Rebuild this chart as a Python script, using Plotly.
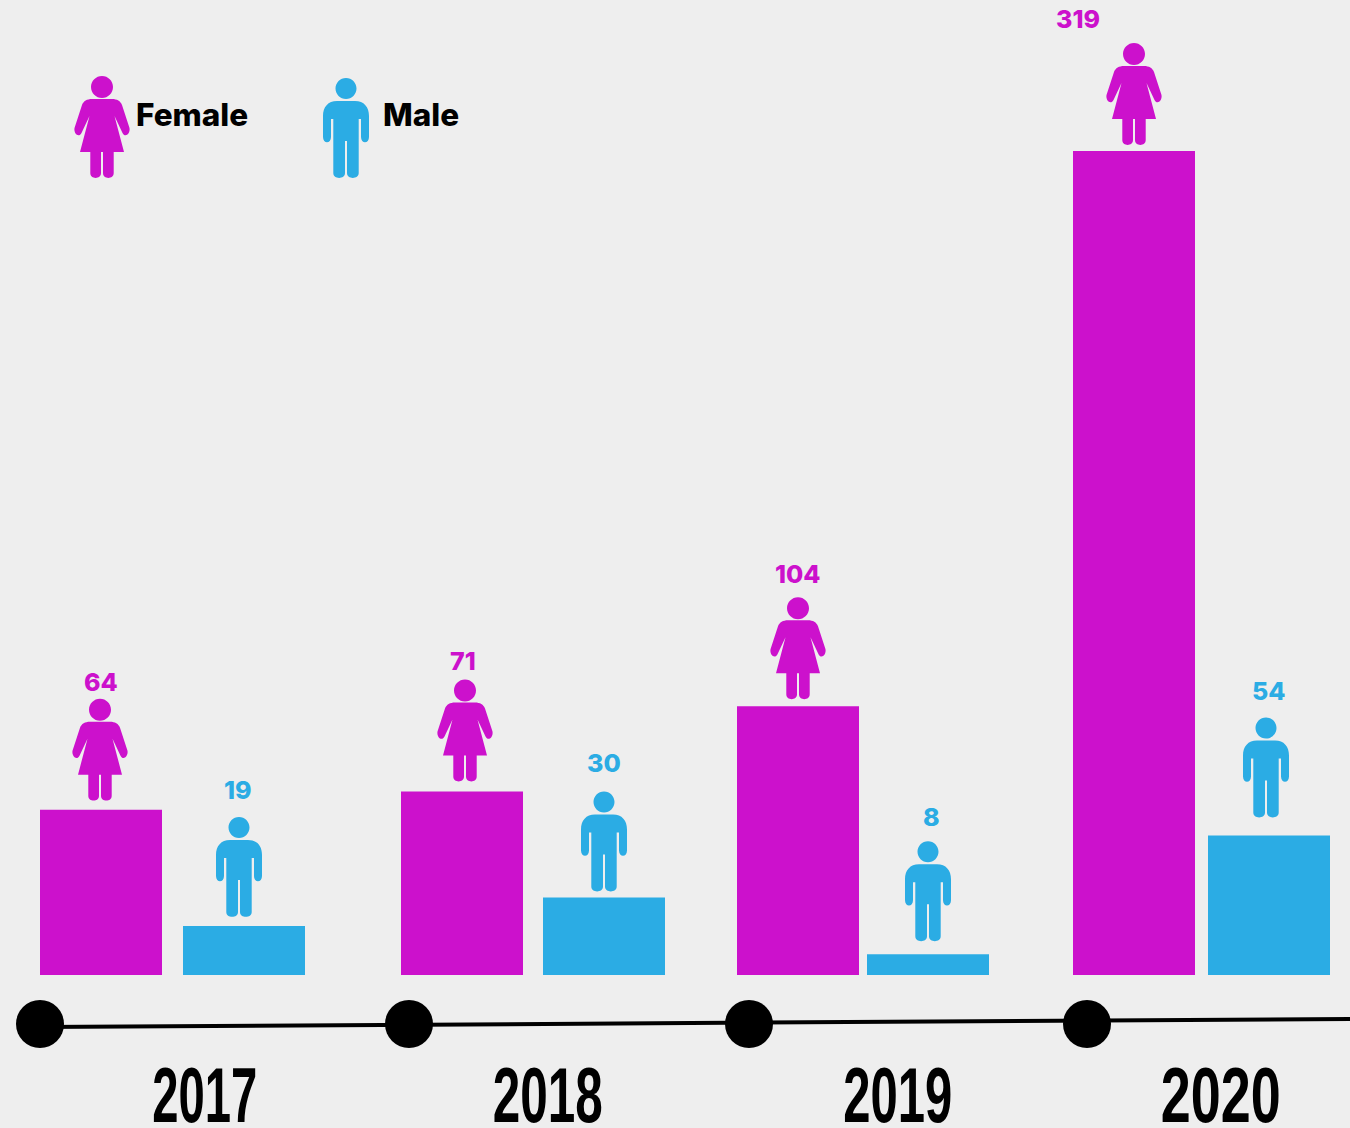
import plotly.graph_objects as go

# --- data ---
years = ["2017", "2018", "2019", "2020"]
female = [64, 71, 104, 319]
male = [19, 30, 8, 54]

# --- layout constants (pixel-scale x axis; y2 is a pixel-scale overlay) ---
W, H = 1350, 1128
BASE_PX = 975
PX_PER_UNIT = 824 / 319
BAR_W = 122
female_x = [101, 462, 798, 1134]
male_x = [244, 604, 928, 1269]
female_icon_x = [100, 465, 798, 1134]
male_icon_x = [239, 604, 928, 1266]
female_icon_gap = [9, 10, 7, 6]
male_icon_gap = [9, 6, 13, 18]
female_label_x = [101, 463, 798, 1078]
male_label_x = [238, 604, 931, 1269]
female_label_gap = [128, 131, 132, 132]
male_label_gap = [136, 135, 137, 145]
node_x = [40, 409, 749, 1087]
year_x = [204, 547, 897, 1220]
year_w = [105, 110, 109, 120]
MAGENTA = "#CC11CC"
BLUE = "#2BACE4"
BG = "#EEEEEE"
FONT = "Inter"


def circle(cx, cy, r):
    k = 0.5523 * r
    return (f"M {cx-r} {cy} C {cx-r} {cy+k} {cx-k} {cy+r} {cx} {cy+r} "
            f"C {cx+k} {cy+r} {cx+r} {cy+k} {cx+r} {cy} "
            f"C {cx+r} {cy-k} {cx+k} {cy-r} {cx} {cy-r} "
            f"C {cx-k} {cy-r} {cx-r} {cy-k} {cx-r} {cy} Z ")


FEMALE_ICON = circle(0, 91, 11) + (
    "M -10 79 L 10 79 C 15 79 18.5 77 20 73 L 27.5 50 C 28.5 44 23 40 20.5 45 L 12.5 62 "
    "L 22 26 L 11.7 26 L 11.7 5 C 11.7 -1.5 1 -1.5 1 5 L 1 26 L -1 26 "
    "L -1 5 C -1 -1.5 -11.7 -1.5 -11.7 5 L -11.7 26 L -22 26 L -12.5 62 "
    "L -20.5 45 C -23 40 -28.5 44 -27.5 50 L -20 73 C -18.5 77 -15 79 -10 79 Z"
)
MALE_ICON = circle(0, 89.5, 10.5) + (
    "M -9 77 L 9 77 C 18 77 23 71 23 62 L 23 41 C 23 34 15 34 15 41 L 15 59 "
    "L 12.7 59 L 12.7 5 C 12.7 -1.5 1 -1.5 1 5 L 1 37 L -1 37 L -1 5 "
    "C -1 -1.5 -12.7 -1.5 -12.7 5 L -12.7 59 L -15 59 L -15 41 "
    "C -15 34 -23 34 -23 41 L -23 62 C -23 71 -18 77 -9 77 Z"
)


def icon(path, color, x, y, yref):
    return dict(type="path", path=path, xsizemode="pixel", ysizemode="pixel",
                xref="x", yref=yref, xanchor=x, yanchor=y,
                fillcolor=color, line=dict(width=0), layer="above")


fig = go.Figure()
fig.add_bar(x=female_x, y=female, width=BAR_W, name="Female",
            marker=dict(color=MAGENTA, line=dict(width=0)), showlegend=False)
fig.add_bar(x=male_x, y=male, width=BAR_W, name="Male",
            marker=dict(color=BLUE, line=dict(width=0)), showlegend=False)

# timeline
fig.add_scatter(x=[40, 1350], y=[1027, 1019], yaxis="y2", mode="lines",
                line=dict(color="black", width=4), showlegend=False, hoverinfo="skip")
fig.add_scatter(x=node_x, y=[1024] * 4, yaxis="y2", mode="markers",
                marker=dict(color="black", size=48, line=dict(width=0)),
                showlegend=False, text=years, hoverinfo="text")

shapes, ann = [], []
for i in range(4):
    shapes.append(icon(FEMALE_ICON, MAGENTA, female_icon_x[i],
                       BASE_PX - female[i] * PX_PER_UNIT - female_icon_gap[i], "y2"))
    shapes.append(icon(MALE_ICON, BLUE, male_icon_x[i],
                       BASE_PX - male[i] * PX_PER_UNIT - male_icon_gap[i], "y2"))
    ann.append(dict(x=female_label_x[i], xref="x", yref="y2",
                    y=BASE_PX - female[i] * PX_PER_UNIT - female_label_gap[i],
                    text=str(female[i]), showarrow=False,
                    font=dict(family=FONT, size=25, weight=800, color=MAGENTA)))
    ann.append(dict(x=male_label_x[i], xref="x", yref="y2",
                    y=BASE_PX - male[i] * PX_PER_UNIT - male_label_gap[i],
                    text=str(male[i]), showarrow=False,
                    font=dict(family=FONT, size=25, weight=800, color=BLUE)))
    ann.append(dict(x=year_x[i], y=1095, xref="x", yref="y2", text=years[i],
                    showarrow=False,
                    font=dict(family="Liberation Sans", size=77, weight=700, color="black")))

shapes.append(icon(FEMALE_ICON, MAGENTA, 102, 178, "y2"))
shapes.append(icon(MALE_ICON, BLUE, 346, 178, "y2"))
ann.append(dict(x=134, y=114, xref="x", yref="y2", xanchor="left", text="Female",
                showarrow=False, font=dict(family=FONT, size=31.5, weight=800, color="black")))
ann.append(dict(x=381, y=114, xref="x", yref="y2", xanchor="left", text="Male",
                showarrow=False, font=dict(family=FONT, size=31.5, weight=800, color="black")))

fig.update_layout(
    width=W, height=H, margin=dict(l=0, r=0, t=0, b=0),
    paper_bgcolor=BG, plot_bgcolor=BG, barmode="overlay", showlegend=False,
    xaxis=dict(range=[0, W], visible=False, fixedrange=True),
    yaxis=dict(range=[-(H - BASE_PX) / PX_PER_UNIT, BASE_PX / PX_PER_UNIT],
               visible=False, fixedrange=True),
    yaxis2=dict(range=[H, 0], overlaying="y", visible=False, fixedrange=True),
    shapes=shapes, annotations=ann,
)

widths = {y: w for y, w in zip(years, year_w)}
post = """
document.body.style.margin = '0';
document.documentElement.style.background = '%s';
var w = %s;
document.querySelectorAll('.annotation-text').forEach(function (t) {
  var k = t.textContent.trim();
  if (w[k]) { t.setAttribute('textLength', w[k]); t.setAttribute('lengthAdjust', 'spacingAndGlyphs'); }
});
""" % (BG, str(widths).replace("'", '"'))
fig.write_html("out.html", config=dict(displayModeBar=False), post_script=post)
